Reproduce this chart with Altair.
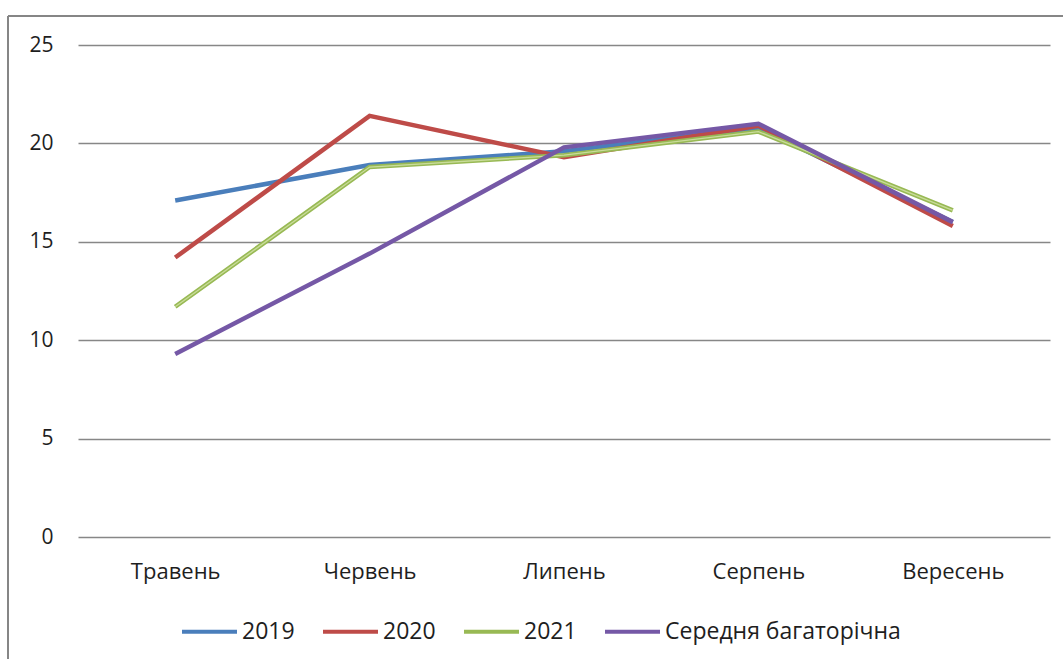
import altair as alt
import pandas as pd

months = ["Травень", "Червень", "Липень", "Серпень", "Вересень"]
series_names = ["2019", "2020", "2021", "Середня багаторічна"]
v2019 = [17.1, 18.9, 19.6, 20.8, 16.0]
v2020 = [14.2, 21.4, 19.3, 20.9, 15.8]
v2021 = [11.7, 18.8, 19.4, 20.6, 16.6]
vavg = [9.3, 14.4, 19.8, 21.0, 16.0]
colors = ["#4A7EBB", "#BE4B48", "#98B954", "#7558A6"]
y_ticks = [0, 5, 10, 15, 20, 25]

rows = []
for name, vals in zip(series_names, [v2019, v2020, v2021, vavg]):
    for m, v in zip(months, vals):
        rows.append({"Місяць": m, "Серія": name, "Значення": v})
df = pd.DataFrame(rows)

FONT = "Open Sans"

x_enc = alt.X("Місяць:N", sort=months,
              scale=alt.Scale(type="point", padding=0.5),
              axis=alt.Axis(title=None, labelAngle=0, ticks=False, domain=False,
                            labelFont=FONT, labelFontSize=22, labelColor="#1E1E1E",
                            labelPadding=24, grid=False))
y_enc = alt.Y("Значення:Q", scale=alt.Scale(domain=[0, 25], nice=False),
              axis=alt.Axis(title=None, values=y_ticks, ticks=False, domain=False,
                            labelFont=FONT, labelFontSize=21, labelColor="#1E1E1E",
                            labelPadding=25, grid=True, gridColor="#878787",
                            gridWidth=1.5))
color_enc = alt.Color("Серія:N",
                      scale=alt.Scale(domain=series_names, range=colors),
                      legend=alt.Legend(title=None, orient="none", direction="horizontal",
                                        legendX=102, legendY=557,
                                        symbolType="stroke", symbolSize=3025,
                                        symbolStrokeWidth=4, labelFont=FONT,
                                        labelFontSize=23, labelColor="#1E1E1E",
                                        labelLimit=400,
                                        labelOffset=3, columnPadding=20, padding=0))

base = alt.Chart(df).encode(x=x_enc, y=y_enc)

lines_main = base.mark_line(strokeWidth=4.5).encode(color=color_enc).transform_filter(
    alt.datum["Серія"] != "Середня багаторічна")
green_center = base.mark_line(strokeWidth=1.3, color="#C9DC9A").transform_filter(
    alt.datum["Серія"] == "2021")
lines_avg = base.mark_line(strokeWidth=4.5).encode(color=color_enc).transform_filter(
    alt.datum["Серія"] == "Середня багаторічна")

frame_df = pd.DataFrame({"k": [0]})
top_border = alt.Chart(frame_df).mark_rule(color="#868686", strokeWidth=2).encode(
    x=alt.value(-70), x2=alt.value(985), y=alt.value(-29))
left_border = alt.Chart(frame_df).mark_rule(color="#868686", strokeWidth=2).encode(
    x=alt.value(-70), y=alt.value(-29), y2=alt.value(614))

chart = alt.layer(top_border, left_border, lines_main, green_center, lines_avg).properties(
    width=972, height=492,
    autosize=alt.AutoSizeParams(type="none"),
    padding={"left": 78, "top": 45, "right": 13, "bottom": 122},
    background="white",
).configure_view(stroke=None)

chart.save("out.html", embed_options={"renderer": "svg", "actions": False})
